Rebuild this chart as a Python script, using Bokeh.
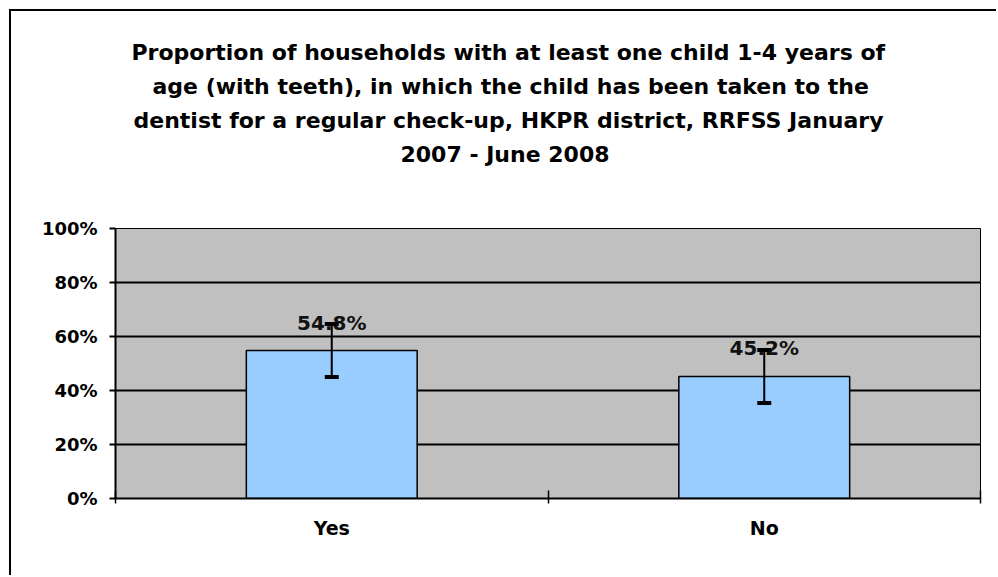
from bokeh.plotting import figure
from bokeh.models import (ColumnDataSource, Range1d, FixedTicker, PrintfTickFormatter,
                          Whisker, TeeHead, Title)
from bokeh.core.properties import value
from bokeh.embed import file_html
from bokeh.resources import INLINE

categories = ["Yes", "No"]
values = [54.8, 45.2]
ci_lower = [45.0, 35.4]
ci_upper = [64.6, 55.0]
value_labels = ["54.8%", "45.2%"]
title_lines = [
    "Proportion of households with at least one child 1-4 years of",
    "age (with teeth), in which the child has been taken to the",
    "dentist for a regular check-up, HKPR district, RRFSS January",
    "2007 - June 2008",
]
title_offsets = [16, 37, 18, 285]  # left offsets that centre each line on the chart area
y_ticks = [0, 20, 40, 60, 80, 100]

xs = [i + 0.5 for i in range(len(categories))]
src = ColumnDataSource(dict(x=xs, cat=categories, v=values, lo=ci_lower, hi=ci_upper,
                            lab=value_labels))

p = figure(width=987, height=566, output_backend="svg", toolbar_location=None,
           title=None, x_range=Range1d(0, len(categories)), y_range=Range1d(0, 100),
           min_border_left=104, min_border_right=18, min_border_bottom=79, min_border_top=217)
p.styles = {"margin-left": "9px", "margin-top": "9px",
            "border-top": "2px solid black", "border-left": "2px solid black"}

p.background_fill_color = "#C0C0C0"
p.border_fill_color = "white"
p.outline_line_color = "black"
p.outline_line_width = 1

# spacer between the title block and the plot area
p.add_layout(Title(text="\u00a0", text_font_size="50px", standoff=0), "above")
# titles (added bottom line first so it sits nearest the plot)
for line, off in reversed(list(zip(title_lines, title_offsets))):
    t = Title(text=line, align="left", offset=off, text_font="DejaVu Sans",
              text_font_size="22px", text_font_style="bold", text_color="black",
              standoff=7)
    p.add_layout(t, "above")

p.vbar(x="x", top="v", width=0.395, source=src, fill_color="#99CCFF",
       line_color="black", line_width=1.5)

w = Whisker(base="x", upper="hi", lower="lo", source=src, line_color="black", line_width=2,
            upper_head=TeeHead(size=14, line_width=4, line_color="black"),
            lower_head=TeeHead(size=14, line_width=4, line_color="black"),
            level="glyph")
p.add_layout(w)

p.text(x="x", y="v", text="lab", source=src, y_offset=-28, text_align="center",
       text_baseline="middle", text_font=value("DejaVu Sans"), text_font_size="20px",
       text_font_style="bold", text_color="#111111")

# y axis
p.yaxis.ticker = FixedTicker(ticks=y_ticks)
p.yaxis.formatter = PrintfTickFormatter(format="%d%%")
p.yaxis.major_label_text_font = "DejaVu Sans"
p.yaxis.major_label_text_font_style = "bold"
p.yaxis.major_label_text_font_size = "18px"
p.yaxis.major_label_text_color = "black"
p.yaxis.major_tick_in = 0
p.yaxis.major_tick_out = 6
p.yaxis.major_tick_line_width = 2
p.yaxis.minor_tick_line_color = None
p.yaxis.axis_line_width = 2
p.yaxis.major_label_standoff = 12

# x axis
p.xaxis.ticker = FixedTicker(ticks=xs, minor_ticks=list(range(len(categories) + 1)))
p.xaxis.major_label_overrides = {x: c for x, c in zip(xs, categories)}
p.xaxis.major_label_text_font = "DejaVu Sans"
p.xaxis.major_label_text_font_style = "bold"
p.xaxis.major_label_text_font_size = "19px"
p.xaxis.major_label_text_color = "black"
p.xaxis.major_tick_line_color = None
p.xaxis.major_tick_in = 0
p.xaxis.major_tick_out = 5
p.xaxis.minor_tick_in = 8
p.xaxis.minor_tick_out = 5
p.xaxis.minor_tick_line_width = 1.5
p.xaxis.minor_tick_line_color = "black"
p.xaxis.axis_line_width = 2
p.xaxis.major_label_standoff = 13

p.xgrid.grid_line_color = None
p.ygrid.ticker = FixedTicker(ticks=y_ticks)
p.ygrid.grid_line_color = "black"
p.ygrid.grid_line_width = 2

open("out.html", "w").write(file_html(p, INLINE))
